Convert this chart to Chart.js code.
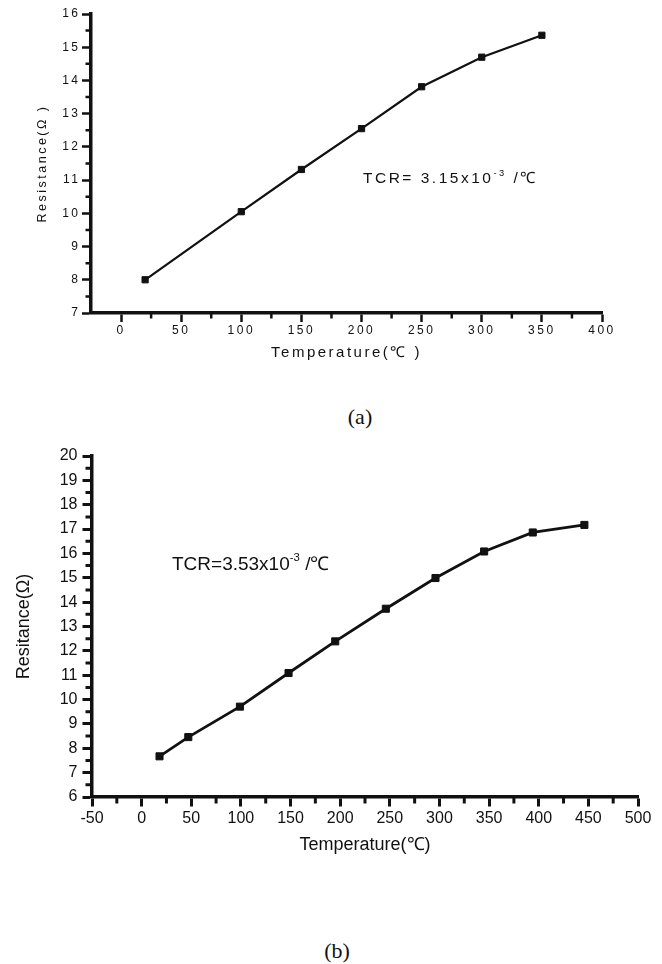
<!DOCTYPE html>
<html><head><meta charset="utf-8">
<script src="https://cdn.jsdelivr.net/npm/chart.js@4.4.0/dist/chart.umd.min.js"></script>
<style>
html,body{margin:0;padding:0;background:#fff;}
body{width:662px;height:964px;position:relative;overflow:hidden;font-family:"Liberation Sans",Arial,sans-serif;}
.box{position:absolute;left:0;width:662px;}
.note{position:absolute;white-space:nowrap;color:#111;line-height:1;}
.note sup{font-size:0.6em;vertical-align:baseline;position:relative;top:-0.75em;}
.cap{position:absolute;font-family:"Liberation Serif","Times New Roman",serif;font-size:22px;color:#111;transform:translate(-50%,-50%);line-height:1;}
</style></head><body>
<div class="box" style="top:0;height:380px"><canvas id="c1"></canvas></div>
<div class="box" style="top:430px;height:450px"><canvas id="c2"></canvas></div>
<div class="note" style="left:363px;top:170px;font-size:15.5px;letter-spacing:2.5px">TCR= 3.15x10<sup>-3</sup> /℃</div>
<div class="note" style="left:172px;top:554px;font-size:19px;">TCR=3.53x10<sup>-3</sup> /℃</div>
<div class="cap" style="left:360px;top:417px">(a)</div>
<div class="cap" style="left:337px;top:951px">(b)</div>
<script>
// ---- data (a)
const tempA = [20, 100, 150, 200, 250, 300, 350];
const resA  = [8.0, 10.05, 11.32, 12.55, 13.81, 14.70, 15.36];
const xTicksA = [0, 50, 100, 150, 200, 250, 300, 350, 400];
const yTicksA = [7, 8, 9, 10, 11, 12, 13, 14, 15, 16];
// ---- data (b)
const tempB = [18, 47, 99, 148, 195, 246, 296, 345, 394, 446];
const resB  = [7.67, 8.46, 9.71, 11.09, 12.39, 13.73, 14.99, 16.08, 16.86, 17.17];
const xTicksB = [-50, 0, 50, 100, 150, 200, 250, 300, 350, 400, 450, 500];
const yTicksB = [6, 7, 8, 9, 10, 11, 12, 13, 14, 15, 16, 17, 18, 19, 20];

Chart.defaults.font.family = '"Liberation Sans", Arial, sans-serif';
Chart.defaults.color = '#111';

const minorTicks = {
  id: 'minorTicks',
  afterDraw(chart, args, o) {
    const ctx = chart.ctx, xs = chart.scales.x, ys = chart.scales.y;
    const mid = a => a.slice(1).map((v, i) => (v + a[i]) / 2);
    ctx.save();
    ctx.strokeStyle = '#111';
    ctx.lineWidth = o.width;
    ctx.beginPath();
    for (const v of mid(o.xTicks)) {
      const p = xs.getPixelForValue(v);
      ctx.moveTo(p, xs.top); ctx.lineTo(p, xs.top + o.len);
    }
    for (const v of mid(o.yTicks)) {
      const p = ys.getPixelForValue(v);
      ctx.moveTo(ys.right, p); ctx.lineTo(ys.right - o.len, p);
    }
    ctx.stroke();
    ctx.restore();
  }
};
const spacing = {
  id: 'spacing',
  beforeDraw(chart, args, o) { chart.ctx.letterSpacing = o.ls || '0px'; }
};

function makeChart(id, cfg) {
  const ticksFrom = arr => (s) => { s.ticks = arr.map(v => ({value: v})); };
  return new Chart(document.getElementById(id), {
    type: 'scatter',
    data: {datasets: [{
      data: cfg.xs.map((x, i) => ({x: x, y: cfg.ys[i]})),
      showLine: true,
      borderColor: '#111', backgroundColor: '#111',
      borderWidth: cfg.lw, pointStyle: 'rect', pointRadius: cfg.pr,
      pointBorderWidth: 1, pointHoverRadius: cfg.pr
    }]},
    options: {
      responsive: true, maintainAspectRatio: false, animation: false,
      layout: {padding: cfg.pad},
      plugins: {legend: {display: false}, tooltip: {enabled: false},
        minorTicks: {xTicks: cfg.xTicks, yTicks: cfg.yTicks, len: cfg.minLen, width: cfg.tw},
        spacing: {ls: cfg.ls}},
      scales: {
        x: {type: 'linear', min: cfg.xmin, max: cfg.xmax,
          afterBuildTicks: ticksFrom(cfg.xTicks),
          afterFit: s => { s.height = cfg.xh; },
          grid: {drawOnChartArea: false, drawTicks: true, tickLength: cfg.majLen, tickWidth: cfg.tw, tickColor: '#111'},
          border: {display: true, color: '#111', width: cfg.bw},
          ticks: {font: {size: cfg.tf}, padding: cfg.xpad, maxRotation: 0, autoSkip: false, color: '#111'},
          title: {display: true, text: cfg.xTitle, font: {size: cfg.xtf}, color: '#111', padding: {top: 0, bottom: cfg.xtpad}}
        },
        y: {type: 'linear', min: cfg.ymin, max: cfg.ymax,
          afterBuildTicks: ticksFrom(cfg.yTicks),
          afterFit: s => { s.width = cfg.yw; },
          grid: {drawOnChartArea: false, drawTicks: true, tickLength: cfg.majLen, tickWidth: cfg.tw, tickColor: '#111'},
          border: {display: true, color: '#111', width: cfg.bw},
          ticks: {font: {size: cfg.tf}, padding: cfg.ypad, autoSkip: false, color: '#111'},
          title: {display: true, text: cfg.yTitle, font: {size: cfg.ytf}, color: '#111', padding: {top: cfg.ytpad, bottom: 0}}
        }
      }
    },
    plugins: [minorTicks, spacing]
  });
}

makeChart('c1', {
  xs: tempA, ys: resA, xTicks: xTicksA, yTicks: yTicksA,
  xmin: -25, xmax: 400, ymin: 7, ymax: 16,
  pad: {top: 14, right: 60, left: 0, bottom: 0},
  xh: 67, yw: 91, lw: 2.2, pr: 4.4, tw: 2.5, bw: 3.5, majLen: 9, minLen: 5.5,
  tf: 12, xpad: 1.5, ypad: 1.5, ls: '2.5px',
  xTitle: 'Temperature(℃ )', xtf: 15, xtpad: 18.3,
  yTitle: 'Resistance(Ω )', ytf: 12.5, ytpad: 35.3
});
makeChart('c2', {
  xs: tempB, ys: resB, xTicks: xTicksB, yTicks: yTicksB,
  xmin: -50, xmax: 500, ymin: 6, ymax: 20,
  pad: {top: 26, right: 24, left: 0, bottom: 0},
  xh: 83, yw: 92, lw: 2.8, pr: 5, tw: 3, bw: 3.5, majLen: 9.5, minLen: 6.5,
  tf: 16, xpad: 2.5, ypad: 5, ls: '0px',
  xTitle: 'Temperature(℃)', xtf: 18, xtpad: 24.2,
  yTitle: 'Resitance(Ω)', ytf: 18, ytpad: 13.6
});
</script>
</body></html>
